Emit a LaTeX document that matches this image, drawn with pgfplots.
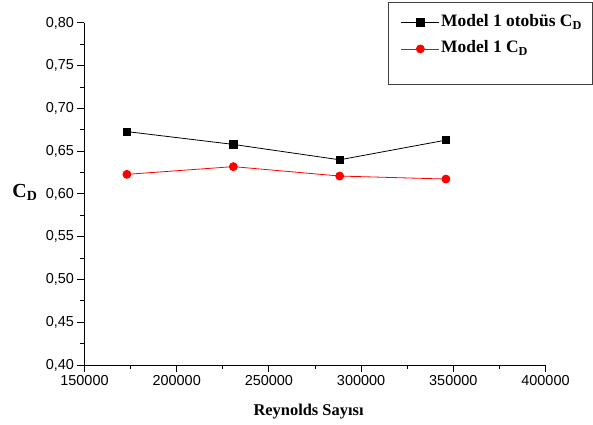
\documentclass[border=0pt]{standalone}
\usepackage{pgfplots}
\pgfplotsset{compat=1.18}
\usepackage{fontspec}
\setmainfont{Liberation Serif}
\newfontfamily\arialfont{Liberation Sans}
\begin{document}
\begin{tikzpicture}
\begin{axis}[
  at={(0,0)}, anchor=south west,
  scale only axis,
  width=461bp, height=342bp,
  xmin=150000, xmax=400000,
  ymin=0.40, ymax=0.80,
  axis x line*=bottom,
  axis y line*=left,
  axis line style={line width=1bp},
  tick align=outside,
  tickwidth=7bp,
  subtickwidth=4bp,
  every tick/.append style={line width=1bp, draw=black},
  xtick={150000,200000,250000,300000,350000,400000},
  ytick={0.40,0.45,0.50,0.55,0.60,0.65,0.70,0.75,0.80},
  scaled x ticks=false,
  scaled y ticks=false,
  /pgf/number format/assume math mode=true,
  tick label style={font=\arialfont\fontsize{14.5}{16}\selectfont},
  xticklabel style={/pgf/number format/.cd, 1000 sep={}, fixed},
  yticklabel style={/pgf/number format/.cd, fixed, fixed zerofill, precision=2, use comma},
  xlabel={\textbf{Reynolds Sayısı}},
  xlabel style={font=\fontsize{16.5}{18}\selectfont, anchor=base, at={(axis description cs:0.486,-0.149)}},
  ylabel={\textbf{C\textsubscript{D}}},
  ylabel style={rotate=-90, font=\fontsize{20}{22}\selectfont, anchor=base west, at={(axis description cs:-0.164,0.491)}},
  legend style={draw=none, fill=none, at={(axis description cs:0.686,1.03)}, anchor=north west,
    font=\fontsize{17.5}{19}\selectfont, row sep=7.5bp, inner sep=0pt,
    nodes={inner sep=1.5bp, text height=12bp, text depth=4bp}},
  legend cell align=left,
  legend image code/.code={\draw[mark repeat=2, mark phase=2, #1] plot coordinates {(0bp,0bp) (19bp,0bp) (38bp,0bp)};},
  clip=false,
]
\addplot[black, line width=0.8bp, mark=square*, mark size=3.6bp, mark options={solid, fill=black}]
  coordinates {(173000,0.673) (230700,0.658) (288400,0.640) (346000,0.663)};
\addlegendentry{\textbf{Model 1 otobüs C\textsubscript{D}}}
\addplot[red, line width=0.8bp, mark=*, mark size=4bp, mark options={solid, fill=red}]
  coordinates {(173000,0.623) (230700,0.632) (288400,0.621) (346000,0.6175)};
\addlegendentry{\textbf{Model 1 C\textsubscript{D}}}
\pgfplotsinvokeforeach{150000,200000,250000,300000,350000,400000}{
  \draw[line width=1bp] (axis cs:#1,0.40) -- ++(0bp,-7bp);
}
\pgfplotsinvokeforeach{175000,225000,275000,325000,375000}{
  \draw[line width=1bp] (axis cs:#1,0.40) -- ++(0bp,-4bp);
}
\pgfplotsinvokeforeach{0.40,0.45,0.50,0.55,0.60,0.65,0.70,0.75,0.80}{
  \draw[line width=1bp] (axis cs:150000,#1) -- ++(-7bp,0bp);
}
\pgfplotsinvokeforeach{0.425,0.475,0.525,0.575,0.625,0.675,0.725,0.775}{
  \draw[line width=1bp] (axis cs:150000,#1) -- ++(-4bp,0bp);
}
\end{axis}
\draw[line width=1bp, black!75] (303.5bp,362bp) rectangle (507.5bp,280bp);
\pgfresetboundingbox
\path[use as bounding box] (-84.5bp,-60bp) rectangle (508.5bp,365bp);
\end{tikzpicture}
\end{document}
